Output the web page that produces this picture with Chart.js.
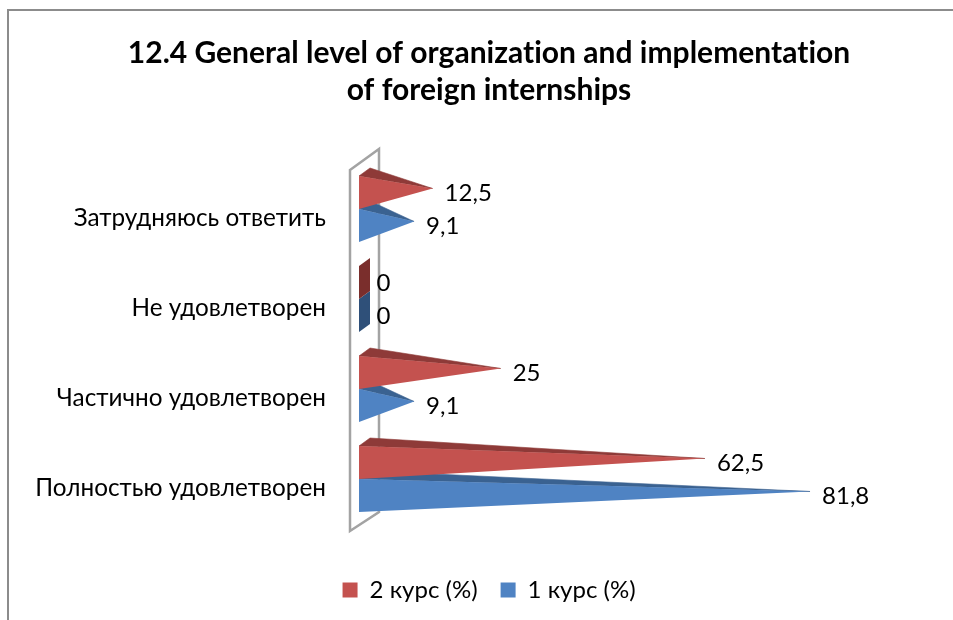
<!DOCTYPE html>
<html><head><meta charset="utf-8">
<style>
html,body{margin:0;padding:0;background:#fff;width:953px;height:620px;overflow:hidden}
#frame{position:absolute;left:7px;top:9px;width:990px;height:700px;border:2px solid #8c8c8c;box-sizing:border-box}
#c{position:absolute;left:0;top:0}
</style>
<script src="https://cdn.jsdelivr.net/npm/chart.js@4"></script>
</head><body>
<div id="frame"><canvas id="c" width="960" height="601"></canvas></div>
<script>
const categories=['Затрудняюсь ответить','Не удовлетворен','Частично удовлетворен','Полностью удовлетворен'];
const course2=[12.5,0,25,62.5];
const course1=[9.1,0,9.1,81.8];
const seriesNames=['2 курс (%)','1 курс (%)'];
const titleLines=['12.4 General level of organization and implementation','of foreign internships'];
const FONT='Lato, "Open Sans", sans-serif';
const DEPTH_X=11, DEPTH_Y=8;
const faces=[{front:'#C4524F',top:'#8E3A38',zero:'#7A2E2C'},{front:'#4F83C3',top:'#3A6291',zero:'#2F5079'}];

const pyramids={
  id:'pyramids',
  beforeDraw(chart){ chart.ctx.letterSpacing='0.01px'; },
  beforeDatasetsDraw(chart){
    const {ctx,chartArea:a}=chart;
    ctx.save();
    ctx.strokeStyle='#a3a3a3';ctx.lineWidth=2.5;
    const l=a.left-9,r=a.left+20;
    ctx.beginPath();
    ctx.moveTo(l,a.top+6);ctx.lineTo(r,a.top-15);ctx.lineTo(r,a.bottom-12);ctx.lineTo(l,a.bottom+7);ctx.closePath();
    ctx.stroke();
    ctx.restore();
  },
  beforeDatasetDraw(chart,args){
    const {ctx}=chart, i=args.index, c=faces[i];
    ctx.save();
    ctx.lineWidth=0.6;
    args.meta.data.forEach((bar,k)=>{
      const v=chart.data.datasets[i].data[k];
      const p=bar.getProps(['x','y','base','height'],true);
      const top=p.y-p.height/2,bot=p.y+p.height/2,b=p.base;
      if(v===0){
        ctx.fillStyle=c.zero;
        ctx.beginPath();ctx.moveTo(b,top);ctx.lineTo(b+DEPTH_X,top-DEPTH_Y);ctx.lineTo(b+DEPTH_X,bot-DEPTH_Y);ctx.lineTo(b,bot);ctx.closePath();ctx.fill();
      }else{
        const tx=p.x+DEPTH_X/2,ty=p.y-DEPTH_Y/2;
        ctx.fillStyle=c.top;ctx.strokeStyle=c.top;
        ctx.beginPath();ctx.moveTo(b,top);ctx.lineTo(b+DEPTH_X,top-DEPTH_Y);ctx.lineTo(tx,ty);ctx.closePath();ctx.fill();ctx.stroke();
        ctx.fillStyle=c.front;
        ctx.beginPath();ctx.moveTo(b,top);ctx.lineTo(tx,ty);ctx.lineTo(b,bot);ctx.closePath();ctx.fill();
      }
    });
    ctx.restore();
    return false;
  },
  afterDatasetsDraw(chart){
    const {ctx}=chart;
    ctx.save();
    ctx.fillStyle='#000';ctx.font='24px '+FONT;ctx.textBaseline='middle';ctx.textAlign='left';
    chart.data.datasets.forEach((ds,i)=>{
      chart.getDatasetMeta(i).data.forEach((bar,k)=>{
        const p=bar.getProps(['x','y'],true);
        ctx.fillText(String(ds.data[k]).replace('.',','),p.x+DEPTH_X/2+12,p.y+1);
      });
    });
    ctx.restore();
  }
};

new Chart(document.getElementById('c'),{
  type:'bar',
  data:{labels:categories,datasets:[
    {label:seriesNames[0],data:course2,backgroundColor:faces[0].front,borderWidth:0,barPercentage:1,categoryPercentage:0.733},
    {label:seriesNames[1],data:course1,backgroundColor:faces[1].front,borderWidth:0,barPercentage:1,categoryPercentage:0.733}
  ]},
  options:{
    indexAxis:'y',responsive:false,animation:false,
    layout:{padding:0},
    plugins:{
      tooltip:{enabled:false},
      title:{display:true,text:titleLines,color:'#000',font:{family:FONT,size:30,weight:'bold',lineHeight:1.233},padding:{top:24,bottom:55}},
      legend:{position:'bottom',labels:{boxWidth:15,boxHeight:15,color:'#000',font:{family:FONT,size:24},padding:23}}
    },
    scales:{
      x:{min:0,max:112,ticks:{display:false},grid:{display:false},border:{display:false},afterFit(s){s.height=31;}},
      y:{ticks:{color:'#000',font:{family:FONT,size:24.3},padding:33,labelOffset:9,autoSkip:false},
         grid:{display:false,drawTicks:false},border:{display:false},afterFit(s){s.width=350;}}
    }
  },
  plugins:[pyramids]
});
</script>
</body></html>
